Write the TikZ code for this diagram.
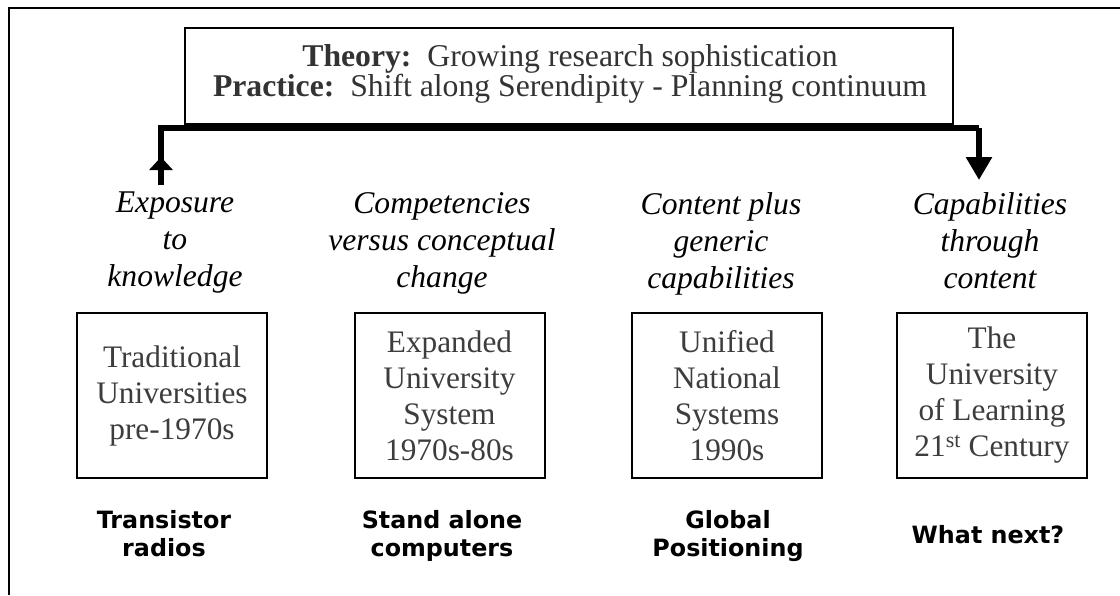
\documentclass[tikz,border=0pt]{standalone}
\usepackage{fontspec}
\setmainfont{Liberation Serif}
\newfontfamily\labelfont{DejaVu Sans}
\usetikzlibrary{arrows.meta}
\definecolor{boxtext}{gray}{0.24}
\definecolor{headtext}{gray}{0.2}
\tikzset{
  frameline/.style={line width=2.8pt},
  headbox/.style={draw, line width=1.2pt, minimum width=768pt, minimum height=96pt, inner sep=0pt, align=center},
  headtxt/.style={align=center, inner sep=0pt, text=headtext, font=\fontsize{31.7}{30}\selectfont},
  erabox/.style={draw, line width=2pt, minimum width=190pt, minimum height=165pt, inner sep=0pt, align=center, text=boxtext, font=\fontsize{31.3}{36}\selectfont},
  phase/.style={align=center, inner sep=0pt, anchor=north, font=\fontsize{31.6}{37}\selectfont\itshape},
  tech/.style={align=center, inner sep=0pt, font=\labelfont\bfseries\fontsize{23.8}{28}\selectfont},
  bracket/.style={line width=6pt, line join=miter},
  tip/.style={-{Triangle[length=23pt,width=25pt]}}
}
\begin{document}
\begin{tikzpicture}[x=1pt,y=-1pt]
\useasboundingbox (0,0) rectangle (1120,595);
\fill[white] (0,0) rectangle (1120,595);
% outer frame (top and left only)
\coordinate (fb) at (9,595);
\coordinate (fc) at (9,8);
\coordinate (fr) at (1120,8);
\draw[frameline] (fb) -- (fc) -- (fr);
% heading box
\node[headbox] (head) at (569,76) {};
\node[headtxt] (headt) at (570,74) {\textbf{Theory:}\ \ Growing research sophistication\\ \textbf{Practice:}\ \ Shift along Serendipity - Planning continuum};
% bracket with arrows
\coordinate (lb) at (161,185);
\coordinate (lt) at (161,157);
\coordinate (lm) at (161,160);
\coordinate (lc) at (161,128);
\coordinate (rc) at (979,128);
\coordinate (re) at (979,180);
\draw[bracket] (lm) -- (lc) -- (rc);
\draw[bracket, tip] (rc) -- (re);
\draw[bracket, {Triangle[length=13pt,width=23pt]}-] (lt) -- (lb);
% phases
\node[phase] (p1) at (175,192) {Exposure\\to\\knowledge};
\node[phase] (p2) at (442,192) {Competencies\\versus conceptual\\change};
\node[phase] (p3) at (721,192) {Content plus\\generic\\capabilities};
\node[phase] (p4) at (990,192) {Capabilities\\through\\content};
% era boxes
\node[erabox] (b1) at (172,395.5) {Traditional\\Universities\\pre-1970s};
\node[erabox] (b2) at (449.5,395.5) {Expanded\\University\\System\\1970s-80s};
\node[erabox] (b3) at (727,395.5) {Unified\\National\\Systems\\1990s};
\node[erabox] (b4) at (992,395.5) {The\\University\\of Learning\\21\textsuperscript{st} Century};
% technology labels
\node[tech, anchor=north] (t1) at (164,510) {Transistor\\radios};
\node[tech, anchor=north] (t2) at (442,510) {Stand alone\\computers};
\node[tech, anchor=north] (t3) at (728,510) {Global\\Positioning};
\node[tech] (t4) at (988,535) {What next?};
\end{tikzpicture}
\end{document}
